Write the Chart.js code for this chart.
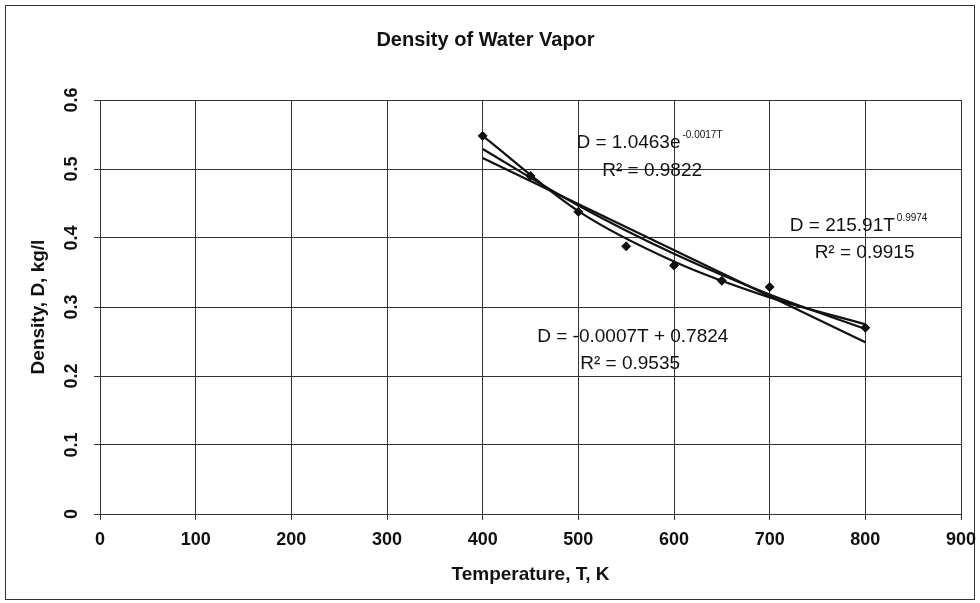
<!DOCTYPE html>
<html>
<head>
<meta charset="utf-8">
<script src="https://cdn.jsdelivr.net/npm/chart.js@4.4.0/dist/chart.umd.min.js"></script>
<style>
  html, body { margin: 0; padding: 0; background: #fff; }
  #wrap { width: 980px; height: 603px; }
</style>
</head>
<body>
<div id="wrap"><canvas id="myChart" width="980" height="603"></canvas></div>
<script>
// measured points
const temps = [400, 450, 500, 550, 600, 650, 700, 800];
const density = [0.548, 0.49, 0.438, 0.388, 0.36, 0.338, 0.329, 0.27];

// trendlines
const curveT = [400, 500, 600, 700, 800];
const powerFit = [0.548, 0.439, 0.366, 0.314, 0.275];
const expFit = [0.529, 0.447, 0.377, 0.318, 0.268];
const linT = [400, 800];
const linFit = [0.516, 0.249];

const xTicks = [0, 100, 200, 300, 400, 500, 600, 700, 800, 900];
const yTicks = [0, 0.1, 0.2, 0.3, 0.4, 0.5, 0.6];

const FONT = "'Liberation Sans', Arial, sans-serif";
const toXY = (xs, ys) => xs.map((x, i) => ({ x: x, y: ys[i] }));

// equation labels, anchored in data units
const notes = [
    { t: 498, d: 0.530, text: 'D = 1.0463e', sup: '-0.0017T' },
    { t: 525, d: 0.490, text: 'R\u00b2 = 0.9822' },
    { t: 721, d: 0.410, text: 'D = 215.91T', sup: '0.9974' },
    { t: 747, d: 0.371, text: 'R\u00b2 = 0.9915' },
    { t: 457, d: 0.249, text: 'D = -0.0007T + 0.7824' },
    { t: 502, d: 0.210, text: 'R\u00b2 = 0.9535' }
];

const extras = {
    id: 'extras',
    beforeDraw(chart) {
        const c = chart.ctx;
        c.save();
        c.fillStyle = '#fff';
        c.fillRect(0, 0, chart.width, chart.height);
        c.strokeStyle = '#333';
        c.lineWidth = 1;
        c.strokeRect(5.5, 5.5, 969, 594);
        c.restore();
    },
    afterDatasetsDraw(chart) {
        const c = chart.ctx;
        const xs = chart.scales.x, ys = chart.scales.y;
        c.save();
        c.fillStyle = '#111';
        c.textBaseline = 'alphabetic';
        c.textAlign = 'left';
        notes.forEach(n => {
            const px = xs.getPixelForValue(n.t);
            const py = ys.getPixelForValue(n.d);
            c.font = '19px ' + FONT;
            c.fillText(n.text, px, py);
            if (n.sup) {
                const w = c.measureText(n.text).width;
                c.font = '10px ' + FONT;
                c.fillText(n.sup, px + w + 2, py - 10);
            }
        });
        c.restore();
    }
};

const ctx = document.getElementById('myChart');
const myChart = new Chart(ctx, {
    type: 'scatter',
    data: {
        datasets: [{
            label: 'Density',
            data: toXY(temps, density),
            pointStyle: 'rectRot',
            pointRadius: 4.5,
            backgroundColor: '#111',
            borderColor: '#111',
            borderWidth: 1
        },
        {
            label: 'Power',
            type: 'line',
            data: toXY(curveT, powerFit),
            borderColor: '#111',
            borderWidth: 2.2,
            pointRadius: 0,
            cubicInterpolationMode: 'monotone'
        },
        {
            label: 'Exponential',
            type: 'line',
            data: toXY(curveT, expFit),
            borderColor: '#111',
            borderWidth: 2.2,
            pointRadius: 0,
            cubicInterpolationMode: 'monotone'
        },
        {
            label: 'Linear',
            type: 'line',
            data: toXY(linT, linFit),
            borderColor: '#111',
            borderWidth: 2.2,
            pointRadius: 0
        }]
    },
    options: {
        responsive: false,
        animation: false,
        layout: { padding: { left: 10, right: 19, top: 10, bottom: 10 } },
        plugins: {
            legend: { display: false },
            tooltip: { enabled: false },
            title: {
                display: true,
                text: 'Density of Water Vapor',
                color: '#111',
                font: { family: FONT, size: 20, weight: 'bold' },
                padding: { top: 18, bottom: 48 }
            }
        },
        scales: {
            x: {
                type: 'linear',
                min: 0,
                max: 900,
                afterBuildTicks: s => { s.ticks = xTicks.map(v => ({ value: v })); },
                afterFit: s => { s.height = 79; s.paddingLeft = 0; s.paddingRight = 0; },
                grid: { color: '#333', lineWidth: 1, tickLength: 6, drawTicks: true },
                border: { color: '#333', width: 1 },
                ticks: {
                    color: '#111',
                    padding: 9,
                    maxRotation: 0,
                    font: { family: FONT, size: 18, weight: 'bold' }
                },
                title: {
                    display: true,
                    text: 'Temperature, T, K',
                    color: '#111',
                    font: { family: FONT, size: 19, weight: 'bold' },
                    padding: { top: 0, bottom: 7 }
                }
            },
            y: {
                type: 'linear',
                min: 0,
                max: 0.6,
                afterBuildTicks: s => { s.ticks = yTicks.map(v => ({ value: v })); },
                afterFit: s => { s.width = 90; s.paddingTop = 0; s.paddingBottom = 0; },
                grid: { color: '#333', lineWidth: 1, tickLength: 6, drawTicks: true },
                border: { color: '#333', width: 1 },
                ticks: {
                    color: '#111',
                    padding: 9,
                    minRotation: 90,
                    maxRotation: 90,
                    crossAlign: 'center',
                    font: { family: FONT, size: 18, weight: 'bold' },
                    callback: v => String(v)
                },
                title: {
                    display: true,
                    text: 'Density, D, kg/l',
                    color: '#111',
                    font: { family: FONT, size: 19, weight: 'bold' },
                    padding: { top: 17, bottom: 0 }
                }
            }
        }
    },
    plugins: [extras]
});
</script>
</body>
</html>
